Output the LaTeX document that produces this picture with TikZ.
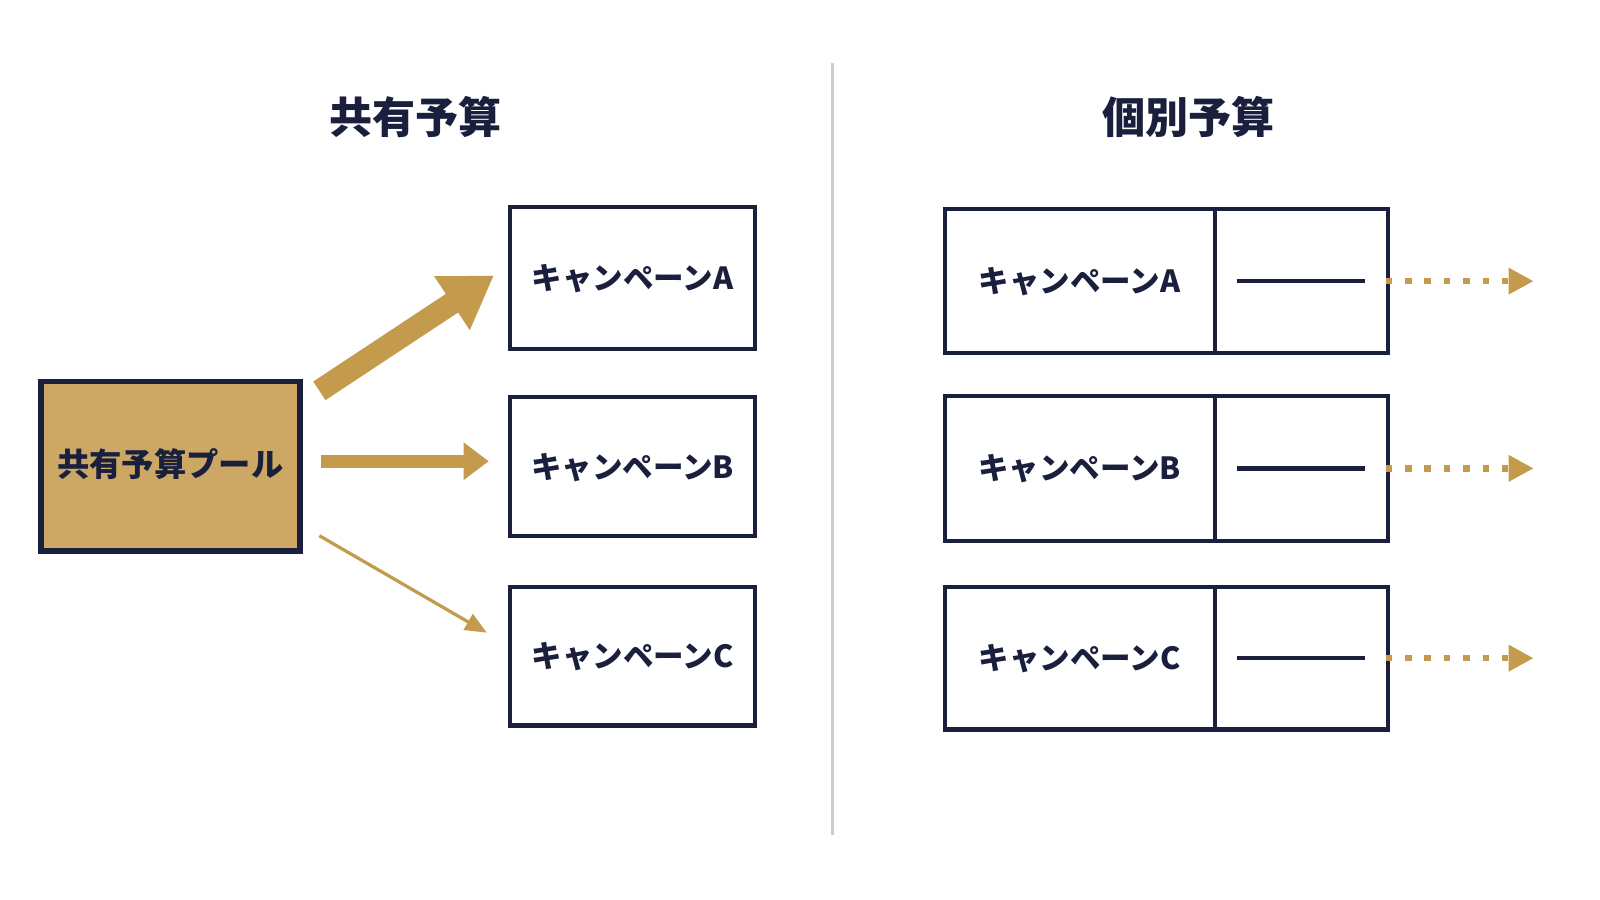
\documentclass[tikz,border=0pt]{standalone}
\usepackage{fontspec}
\setmainfont{Noto Sans CJK JP}
\usetikzlibrary{arrows.meta}
\definecolor{navy}{HTML}{1A1F3D}
\definecolor{gold}{HTML}{C49A4C}
\definecolor{goldfill}{HTML}{CCA864}
\begin{document}
\begin{tikzpicture}[x=0.01cm,y=-0.01cm,
  box/.style={draw=navy,line width=1.2pt,fill=white},
  lbl/.style={text=navy,font=\fontsize{8.5pt}{10pt}\selectfont\bfseries},
  ttl/.style={text=navy,font=\fontsize{12pt}{14pt}\selectfont\bfseries},
  dotarr/.style={gold,line width=1.8pt,dash pattern=on 1.8pt off 3.6pt,-{Triangle[length=7pt,width=7pt]}}]
\useasboundingbox (0,0) rectangle (1568,882);
\fill[white] (0,0) rectangle (1568,882);
\node[ttl] (t1) at (407,115) {共有予算};
\node[ttl] (t2) at (1165,115) {個別予算};
\draw[gray!40,line width=1pt] (816,62) coordinate (d1) -- (816,818) coordinate (d2);
% pool
\fill[goldfill] (40,374) rectangle (294,540);
\draw[navy,line width=1.5pt] (40,374) rectangle (294,540);
\node[lbl,font=\fontsize{9pt}{11pt}\selectfont\bfseries] (pl) at (167,455) {共有予算プール};
% left boxes
\draw[box] (500,203) rectangle (740,342);
\draw[box] (500,389) rectangle (740,525);
\draw[box] (500,575) rectangle (740,711);
\node[lbl] (la) at (620,273) {キャンペーンA};
\node[lbl] (lb) at (620,458) {キャンペーンB};
\node[lbl] (lc) at (620,643) {キャンペーンC};
\coordinate (s1) at (313,383); \coordinate (e1) at (484,270);
\coordinate (s2) at (315,452); \coordinate (e2) at (479,452);
\coordinate (s3) at (313,525); \coordinate (e3) at (477,620);
\draw[gold,line width=6.2pt,-{Triangle[length=14pt,width=17pt]}] (s1) -- (e1);
\draw[gold,line width=3.6pt,-{Triangle[length=7pt,width=10pt]}] (s2) -- (e2);
\draw[gold,line width=0.9pt,-{Triangle[length=6pt,width=5pt]}] (s3) -- (e3);
% right boxes
\foreach \ya/\yb/\n in {205/346/A,388/530/B,575/715/C}{
  \draw[box] (926,\ya) rectangle (1360,\yb);
  \draw[navy,line width=1.2pt] (1191,\ya) -- (1191,\yb);
  \node[lbl] (r\n) at (1058,{(\ya+\yb)/2}) {キャンペーン\n};
  \draw[navy,line width=1.2pt] (1212,{(\ya+\yb)/2}) coordinate (m\n) -- (1338,{(\ya+\yb)/2});
  \draw[dotarr] (1358,{(\ya+\yb)/2}) coordinate (o\n) -- (1503,{(\ya+\yb)/2});
}
\end{tikzpicture}
\end{document}
